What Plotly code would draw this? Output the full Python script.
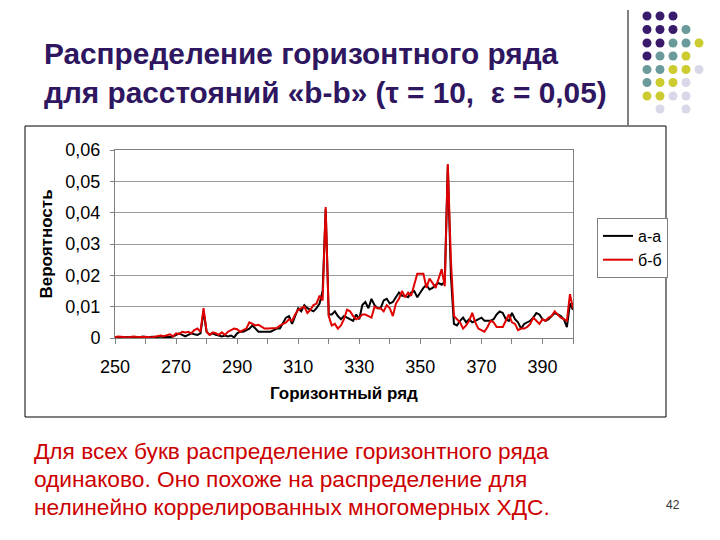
import plotly.graph_objects as go

# ---------------- data ----------------
x_rows = list(range(250, 401))

p_bb = [0.0002,0.0005,0.0004,0.0002,0.0002,0.0003,0.0005,0.0004,0.0003,0.0003,
        0.0004,0.0003,0.0002,0.0004,0.0005,0.0008,0.0006,0.0010,0.0012,0.0005,
        0.0015,0.0012,0.0020,0.0018,0.0020,0.0015,0.0025,0.0030,0.0020,0.0095,
        0.0020,0.0010,0.0018,0.0015,0.0010,0.0018,0.0010,0.0020,0.0025,0.0030,
        0.0028,0.0020,0.0025,0.0030,0.0050,0.0045,0.0040,0.0042,0.0035,0.0030,
        0.0030,0.0030,0.0030,0.0032,0.0040,0.0045,0.0050,0.0060,0.0055,0.0075,
        0.0090,0.0095,0.0100,0.0080,0.0090,0.0105,0.0110,0.0135,0.0120,0.0418,
        0.0070,0.0040,0.0045,0.0030,0.0040,0.0060,0.0090,0.0085,0.0070,0.0060,
        0.0065,0.0075,0.0075,0.0070,0.0065,0.0100,0.0095,0.0095,0.0085,0.0105,
        0.0095,0.0070,0.0110,0.0125,0.0150,0.0130,0.0145,0.0135,0.0170,0.0205,
        0.0205,0.0205,0.0160,0.0190,0.0175,0.0160,0.0190,0.0220,0.0165,0.0555,
        0.0250,0.0070,0.0060,0.0050,0.0030,0.0040,0.0055,0.0080,0.0050,0.0030,
        0.0025,0.0020,0.0035,0.0055,0.0050,0.0035,0.0035,0.0035,0.0055,0.0075,
        0.0050,0.0045,0.0025,0.0030,0.0030,0.0035,0.0045,0.0065,0.0055,0.0045,
        0.0060,0.0055,0.0065,0.0070,0.0085,0.0075,0.0065,0.0060,0.0055,0.0140,
        0.0095]

p_aa = [0.0002,0.0003,0.0002,0.0002,0.0003,0.0002,0.0003,0.0002,0.0002,0.0005,
        0.0003,0.0002,0.0004,0.0003,0.0003,0.0005,0.0003,0.0004,0.0003,0.0005,
        0.0010,0.0015,0.0010,0.0005,0.0010,0.0015,0.0012,0.0010,0.0015,0.0085,
        0.0020,0.0010,0.0015,0.0010,0.0008,0.0005,0.0008,0.0005,0.0008,0.0002,
        0.0015,0.0020,0.0020,0.0025,0.0030,0.0040,0.0030,0.0020,0.0020,0.0020,
        0.0020,0.0020,0.0025,0.0030,0.0030,0.0050,0.0065,0.0070,0.0045,0.0070,
        0.0095,0.0085,0.0105,0.0095,0.0090,0.0085,0.0095,0.0110,0.0150,0.0410,
        0.0075,0.0075,0.0085,0.0070,0.0060,0.0070,0.0065,0.0060,0.0055,0.0075,
        0.0060,0.0105,0.0115,0.0095,0.0125,0.0105,0.0095,0.0095,0.0120,0.0125,
        0.0110,0.0115,0.0130,0.0145,0.0135,0.0135,0.0130,0.0145,0.0150,0.0130,
        0.0145,0.0160,0.0170,0.0155,0.0160,0.0170,0.0175,0.0170,0.0180,0.0550,
        0.0200,0.0045,0.0040,0.0055,0.0065,0.0050,0.0060,0.0050,0.0055,0.0060,
        0.0065,0.0055,0.0055,0.0055,0.0060,0.0075,0.0085,0.0080,0.0060,0.0055,
        0.0080,0.0060,0.0050,0.0030,0.0045,0.0050,0.0055,0.0065,0.0080,0.0075,
        0.0060,0.0055,0.0060,0.0070,0.0080,0.0075,0.0070,0.0060,0.0035,0.0110,
        0.0090]

y_tickvals = [0, 0.01, 0.02, 0.03, 0.04, 0.05, 0.06]
y_ticktext = ["0", "0,01", "0,02", "0,03", "0,04", "0,05", "0,06"]
x_tickvals = [250, 270, 290, 310, 330, 350, 370, 390]

title_lines = ["Распределение горизонтного ряда",
               "для расстояний «b-b» (τ = 10,  ε = 0,05)"]
body_lines = ["Для всех букв распределение горизонтного ряда",
              "одинаково. Оно похоже на распределение для",
              "нелинейно коррелированных многомерных ХДС."]
page_no = "42"

# ---------------- figure ----------------
W, H = 720, 540
def px(x): return x / W
def py(y): return 1 - y / H

fig = go.Figure()
fig.add_trace(go.Scatter(x=x_rows, y=p_aa, mode="lines", name="а-а",
                         line=dict(color="#000000", width=2)))
fig.add_trace(go.Scatter(x=x_rows, y=p_bb, mode="lines", name="б-б",
                         line=dict(color="#E00000", width=2)))

tick_font = dict(family="Liberation Sans, Arial", size=18, color="#000000")
axis_title_font = dict(family="Liberation Sans, Arial", size=17, color="#000000")

fig.update_layout(
    width=W, height=H,
    margin=dict(l=0, r=0, t=0, b=0, autoexpand=False),
    paper_bgcolor="white", plot_bgcolor="white",
    showlegend=True,
    legend=dict(x=px(597), y=py(218), xanchor="left", yanchor="top",
                bordercolor="#808080", borderwidth=1, bgcolor="white",
                font=dict(family="Liberation Sans, Arial", size=16, color="#000000"),
                tracegroupgap=0, itemwidth=30),
    xaxis=dict(domain=[px(115), px(573)], range=[250, 400], automargin=False,
               tickvals=x_tickvals, ticks="outside", ticklen=5, tickcolor="#808080",
               ticklabelstandoff=7,
               minor=dict(dtick=10, tick0=250, ticks="outside", ticklen=5, tickcolor="#808080", showgrid=False),
               showgrid=False, zeroline=False,
               showline=True, linecolor="#808080", linewidth=1, mirror=True,
               tickfont=tick_font,
               title=dict(text="<b>Горизонтный ряд</b>", font=axis_title_font, standoff=11)),
    yaxis=dict(domain=[py(338), py(150)], range=[0, 0.06], automargin=False,
               tickvals=y_tickvals, ticktext=y_ticktext,
               ticks="outside", ticklen=4, tickcolor="#808080",
               ticklabelstandoff=6,
               showgrid=True, gridcolor="#9A9A9A", gridwidth=1, zeroline=False,
               showline=True, linecolor="#808080", linewidth=1, mirror=True,
               tickfont=tick_font,
               title=dict(text="<b>Вероятность</b>", font=axis_title_font, standoff=8)),
)

shapes = []
# chart frame
shapes.append(dict(type="rect", xref="paper", yref="paper",
                   x0=px(25), x1=px(666), y0=py(417), y1=py(126),
                   line=dict(color="#000000", width=1), layer="below"))
# vertical decorative line
shapes.append(dict(type="line", xref="paper", yref="paper",
                   x0=px(628), x1=px(628), y0=py(10), y1=py(126),
                   line=dict(color="#808080", width=2)))

# decorative dot grid
P, T, Y, L = "#3A1A6A", "#6A9A9A", "#CCCC30", "#D8D8E8"
dot_rows = [
    [P, P, P, None, None],
    [P, P, P, T, None],
    [P, P, T, T, Y],
    [P, T, T, Y, None],
    [T, T, Y, Y, L],
    [T, Y, Y, L, None],
    [Y, Y, L, L, None],
    [None, L, None, L, None],
]
col_x = [647, 660, 673, 686, 699]
row_y = [16, 29.5, 43, 56, 69.5, 82.5, 96, 109]
r = 4.5
for ri, row in enumerate(dot_rows):
    for ci, c in enumerate(row):
        if c is None:
            continue
        cx, cy = col_x[ci], row_y[ri]
        shapes.append(dict(type="circle", xref="paper", yref="paper",
                           x0=px(cx - r), x1=px(cx + r), y0=py(cy + r), y1=py(cy - r),
                           fillcolor=c, line=dict(width=0)))
fig.update_layout(shapes=shapes)

annotations = []
title_y = [54, 92]
for t, yy in zip(title_lines, title_y):
    annotations.append(dict(text="<b>" + t + "</b>", xref="paper", yref="paper",
                            x=px(42), y=py(yy), xanchor="left", yanchor="middle",
                            showarrow=False,
                            font=dict(family="Liberation Sans, Arial", size=29.8, color="#2E1660")))
body_y = [451, 479, 507]
for t, yy in zip(body_lines, body_y):
    annotations.append(dict(text=t, xref="paper", yref="paper",
                            x=px(32), y=py(yy), xanchor="left", yanchor="middle",
                            showarrow=False,
                            font=dict(family="Liberation Sans, Arial", size=22.7, color="#CC0000")))
annotations.append(dict(text=page_no, xref="paper", yref="paper",
                        x=px(673), y=py(505), xanchor="center", yanchor="middle",
                        showarrow=False,
                        font=dict(family="Liberation Sans, Arial", size=12, color="#333333")))
fig.update_layout(annotations=annotations)

fig.write_html("out.html")
